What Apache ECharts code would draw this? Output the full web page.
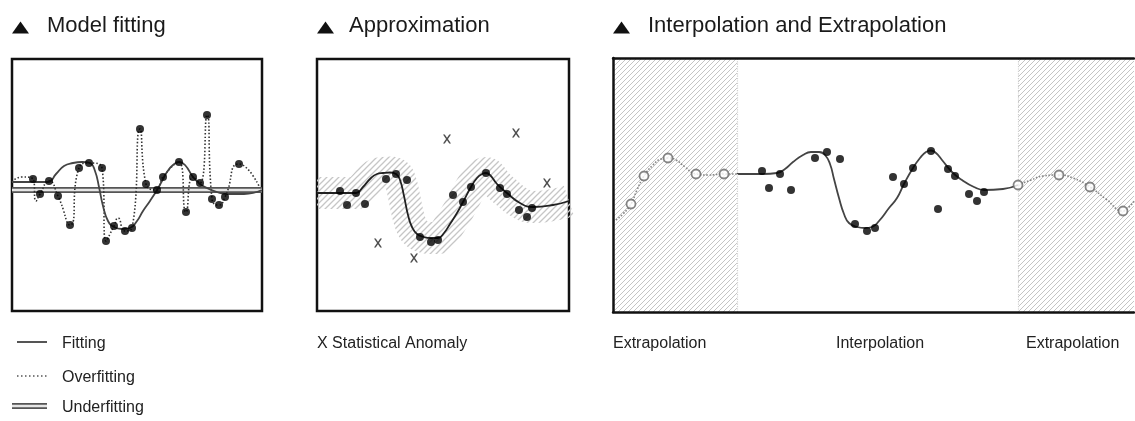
<!DOCTYPE html>
<html>
<head>
<meta charset="utf-8">
<script src="https://cdn.jsdelivr.net/npm/echarts@6/dist/echarts.min.js"></script>
<style>
html,body{margin:0;padding:0;background:#fff;}
#chart{width:1135px;height:421px;}
</style>
</head>
<body>
<div id="chart"></div>
<script>
// ---------- Panel 1: Model fitting ----------
const p1Points = [[21,132],[28,117],[37,130],[46,115],[58,86],[67,143],[77,148],[90,143],[94,70],[102,85],[113,80],[120,83],[128,182],[134,127],[145,121],[151,134],[167,149],[174,99],[181,134],[188,128],[195,196],[200,112],[207,106],[213,114],[227,147]];
const p1Overfit = [[0,129],[10,134],[21,132],[24,110],[28,117],[37,130],[46,115],[58,86],[67,143],[77,148],[90,143],[94,70],[102,85],[106,93],[113,80],[120,83],[128,182],[134,127],[145,121],[151,134],[167,149],[174,99],[181,134],[188,128],[195,196],[200,112],[207,106],[213,114],[227,147],[247,125]];
const p1Fit = [[0,129],[36,129],[44,137],[52,145],[61,148],[70,149],[78,148],[83,140],[87,124],[91,105],[96,90],[102,84],[110,82],[118,83],[125,90],[131,100],[138,110],[145,121],[150,130],[155,139],[161,146],[167,149],[173,146],[181,134],[188,127],[195,123],[205,119],[215,117],[232,117],[250,121]];
const p1Underfit = [[0,121],[250,121]];

// ---------- Panel 2: Approximation ----------
const p2Points = [[23,120],[30,106],[39,118],[48,107],[69,132],[79,137],[90,131],[103,74],[114,69],[121,71],[136,116],[146,109],[154,124],[169,138],[183,123],[190,117],[202,101],[210,94],[215,103]];
const p2Anomaly = [[130,172],[199,178],[230,128],[61,68],[97,53]];
const p2Curve = [[0,118],[23,118],[39,118],[46,124],[53,132],[60,137],[66,138],[73,138.5],[79,137],[83,131],[87,115],[91,96],[95,84],[100,77],[107,74],[114,73],[121,73],[127,78],[133,87],[140,98],[146,109],[154,124],[160,133],[165,137],[169,138],[173,136],[180,127],[190,118],[203,108],[216,104],[236,106],[252,110]];

// ---------- Panel 3: Interpolation and Extrapolation ----------
const p3LeftExtrap = [[3,92],[10,98],[18,108],[24,122],[31,136],[40,147],[48,153],[55,154],[63,152],[72,145],[83,138],[95,137],[111,138],[124,138]];
const p3LeftOpen = [[18,108],[31,136],[55,154],[83,138],[111,138]];
const p3Interp = [[124,138],[150,138],[164,139],[172,143],[180,150],[190,157],[198,160],[206,160],[212,157],[217,148],[221,133],[226,114],[231,98],[236,89],[244,85],[252,84],[259,85],[266,91],[276,104],[284,114],[291,128],[300,144],[307,154],[313,160],[318,161.5],[323,159],[329,152],[339,140],[349,132],[361,125],[371,122],[390,123],[405,127]];
const p3Points = [[149,141],[156,124],[167,138],[178,122],[202,154],[214,160],[227,153],[242,88],[254,81],[262,84],[280,135],[291,128],[300,144],[318,161],[325,103],[335,143],[342,136],[356,118],[364,111],[371,120]];
const p3RightExtrap = [[405,127],[418,132],[430,136],[446,137],[460,134],[477,125],[493,113],[510,101],[516,105],[522,112]];
const p3RightOpen = [[405,127],[446,137],[477,125],[510,101]];
const p3Regions = [[0,124],[405,521]];

// ---------- Texts ----------
const titles = ['Model fitting','Approximation','Interpolation and Extrapolation'];
const legendNames = ['Fitting','Overfitting','Underfitting'];
const anomalyLabel = 'X Statistical Anomaly';
const regionLabels = ['Extrapolation','Interpolation','Extrapolation'];

function hatch(size, color, width){
  const c = document.createElement('canvas');
  c.width = size; c.height = size;
  const ctx = c.getContext('2d');
  ctx.strokeStyle = color; ctx.lineWidth = width;
  ctx.beginPath();
  ctx.moveTo(0,size); ctx.lineTo(size,0);
  ctx.moveTo(-size/2,size/2); ctx.lineTo(size/2,-size/2);
  ctx.moveTo(size/2,size*1.5); ctx.lineTo(size*1.5,size/2);
  ctx.stroke();
  return c;
}
const hatchBand = hatch(6,'#c6c6c6',1.3);
const hatchRegion = hatch(5,'#c4c4c4',1);

const FONT = '"Liberation Sans", Arial, Helvetica, sans-serif';
const chart = echarts.init(document.getElementById('chart'), null, {renderer:'canvas'});

const gridBase = {show:true, borderColor:'#111', borderWidth:2.5, backgroundColor:'#fff'};
const hiddenAxis = {type:'value', show:false, splitLine:{show:false}};
const frameLine = {show:true, onZero:false, lineStyle:{color:'#111', width:2.5}};
const frameAxis = {type:'value', show:true, z:10, axisLine:frameLine, axisTick:{show:false}, axisLabel:{show:false}, splitLine:{show:false}};

function dots(name, data, xi){
  return {type:'scatter', name, xAxisIndex:xi, yAxisIndex:xi, data, symbolSize:8,
    itemStyle:{color:'#000'}, z:5, silent:true};
}

const series = [
  // panel 1
  {type:'line', xAxisIndex:0, yAxisIndex:0, data:p1Underfit, showSymbol:false, lineStyle:{color:'#555', width:6}, z:2},
  {type:'line', xAxisIndex:0, yAxisIndex:0, data:p1Underfit, showSymbol:false, lineStyle:{color:'#e6e6e6', width:2.4}, z:2},
  {type:'line', xAxisIndex:0, yAxisIndex:0, data:p1Overfit, showSymbol:false, smooth:0.6, lineStyle:{color:'#333', width:1.6, type:[1.5,2]}, z:3},
  {type:'line', xAxisIndex:0, yAxisIndex:0, data:p1Fit, showSymbol:false, smooth:0.5, lineStyle:{color:'#444', width:1.8}, z:4},
  dots('p1', p1Points, 0),
  // panel 2
  {type:'line', xAxisIndex:1, yAxisIndex:1, data:p2Curve, showSymbol:false, smooth:0.5, lineStyle:{color:{image:hatchBand, repeat:'repeat'}, width:32, cap:'butt'}, z:1},
  {type:'line', xAxisIndex:1, yAxisIndex:1, data:p2Curve, showSymbol:false, smooth:0.5, lineStyle:{color:'#222', width:1.8}, z:4},
  dots('p2', p2Points, 1),
  {type:'scatter', xAxisIndex:1, yAxisIndex:1, data:p2Anomaly, symbol:'path://M0,0 L2.2,0 L5,3.6 L7.8,0 L10,0 L6.2,5 L10,10 L7.8,10 L5,6.4 L2.2,10 L0,10 L3.8,5 Z', symbolSize:[8,9], itemStyle:{color:'#222'}, z:5},
  // panel 3
  {type:'line', xAxisIndex:2, yAxisIndex:2, data:p3Interp, showSymbol:false, smooth:0.5, lineStyle:{color:'#444', width:1.8}, z:4,
    markArea:{silent:true, itemStyle:{color:{image:hatchRegion, repeat:'repeat'}, borderWidth:0}, data:p3Regions.map(r=>[{xAxis:r[0]},{xAxis:r[1]}])},
    markLine:{silent:true, symbol:'none', label:{show:false}, lineStyle:{color:'#d0d0d0', type:'dotted', width:1.2}, data:[{xAxis:p3Regions[0][1]},{xAxis:p3Regions[1][0]}]}
  },
  {type:'line', xAxisIndex:2, yAxisIndex:2, data:p3LeftExtrap, showSymbol:false, smooth:0.5, lineStyle:{color:'#888', width:1.6, type:'dotted'}, z:3},
  {type:'line', xAxisIndex:2, yAxisIndex:2, data:p3RightExtrap, showSymbol:false, smooth:0.5, lineStyle:{color:'#888', width:1.6, type:'dotted'}, z:3},
  dots('p3', p3Points, 2),
  {type:'scatter', xAxisIndex:2, yAxisIndex:2, data:p3LeftOpen.concat(p3RightOpen), symbolSize:9, itemStyle:{color:'#fff', borderColor:'#666', borderWidth:1.8}, z:5}
];

const titleX = [[12,47],[317,349],[613,648]];
const graphic = [];
titleX.forEach((t,i)=>{
  graphic.push({type:'polygon', shape:{points:[[t[0],33.5],[t[0]+17,33.5],[t[0]+8.5,21.5]]}, style:{fill:'#111'}});
  graphic.push({type:'text', left:t[1], top:15, style:{text:titles[i], font:'22px '+FONT, fill:'#1a1a1a'}});
});
// legend of panel 1
graphic.push({type:'line', shape:{x1:17,y1:342,x2:47,y2:342}, style:{stroke:'#555', lineWidth:2}});
graphic.push({type:'line', shape:{x1:17,y1:376,x2:47,y2:376}, style:{stroke:'#555', lineWidth:1.5, lineDash:[1.5,2.5]}});
graphic.push({type:'line', shape:{x1:12,y1:406,x2:47,y2:406}, style:{stroke:'#555', lineWidth:6}});
graphic.push({type:'line', shape:{x1:12,y1:406,x2:47,y2:406}, style:{stroke:'#e6e6e6', lineWidth:2.4}});
[342,376,406].forEach((y,i)=>{
  graphic.push({type:'text', left:62, top:y-6, style:{text:legendNames[i], font:'16px '+FONT, fill:'#222'}});
});
graphic.push({type:'text', left:317, top:336, style:{text:anomalyLabel, font:'16px '+FONT, fill:'#222'}});
[613,836,1026].forEach((x,i)=>{
  graphic.push({type:'text', left:x, top:336, style:{text:regionLabels[i], font:'16px '+FONT, fill:'#222'}});
});

chart.setOption({
  animation:false,
  backgroundColor:'#fff',
  grid:[
    Object.assign({left:12, top:59, width:250, height:252}, gridBase),
    Object.assign({left:317, top:59, width:252, height:252}, gridBase),
    {left:613, top:58, width:521, height:254, show:false}
  ],
  xAxis:[
    Object.assign({gridIndex:0, min:0, max:250}, hiddenAxis),
    Object.assign({gridIndex:1, min:0, max:252}, hiddenAxis),
    Object.assign({gridIndex:2, min:0, max:521, position:'bottom'}, frameAxis),
    Object.assign({gridIndex:2, min:0, max:521, position:'top'}, frameAxis)
  ],
  yAxis:[
    Object.assign({gridIndex:0, min:0, max:252}, hiddenAxis),
    Object.assign({gridIndex:1, min:0, max:252}, hiddenAxis),
    Object.assign({gridIndex:2, min:0, max:254, position:'left'}, frameAxis)
  ],
  series,
  graphic
});
</script>
</body>
</html>
